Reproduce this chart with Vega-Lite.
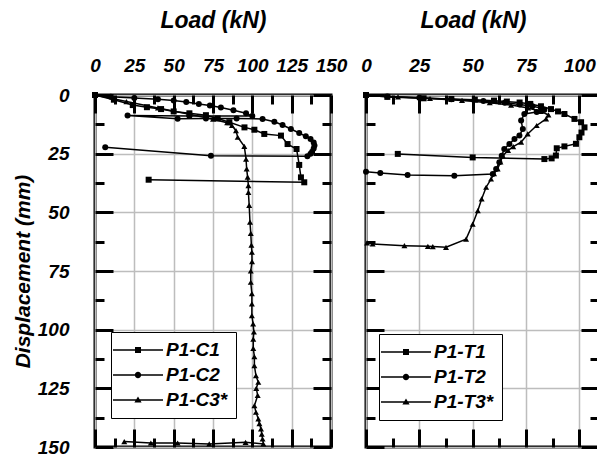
{
  "$schema": "https://vega.github.io/schema/vega-lite/v6.json",
  "padding": {"left": 10, "top": 7, "right": 0, "bottom": 2},
  "bounds": "flush",
  "spacing": 35,
  "config": {
    "view": {"stroke": "black", "strokeWidth": 3},
    "font": "Liberation Sans",
    "axis": {
      "labelFont": "Liberation Sans", "labelFontSize": 19, "labelFontStyle": "italic", "labelFontWeight": "bold", "labelColor": "black",
      "titleFont": "Liberation Sans", "titleFontSize": 21, "titleFontStyle": "italic", "titleFontWeight": "bold", "titleColor": "black",
      "tickColor": "black", "tickWidth": 3, "domain": false, "labelFlush": false, "labelOverlap": false, "gridWidth": 1.5
    },
    "axisX": {"titleFontSize": 23},
    "legend": {
      "labelFont": "Liberation Sans", "labelFontSize": 19, "labelFontStyle": "italic", "labelFontWeight": "bold", "labelColor": "black",
      "strokeColor": "black", "fillColor": "white", "padding": 8, "rowPadding": 5,
      "symbolSize": 400, "symbolFillColor": "black", "symbolStrokeColor": "black", "symbolStrokeWidth": 0,
      "symbolOffset": 9, "labelOffset": 18
    }
  },
  "datasets": {
    "comp": [
      {"s":"P1-C1","i":0,"load":0,"disp":0},{"s":"P1-C1","i":1,"load":12,"disp":2},{"s":"P1-C1","i":2,"load":24,"disp":4.3},{"s":"P1-C1","i":3,"load":33,"disp":5.2},{"s":"P1-C1","i":4,"load":42,"disp":6},{"s":"P1-C1","i":5,"load":50,"disp":7},{"s":"P1-C1","i":6,"load":60,"disp":7.8},{"s":"P1-C1","i":7,"load":70.5,"disp":8.6},{"s":"P1-C1","i":8,"load":78,"disp":10},{"s":"P1-C1","i":9,"load":85.4,"disp":11.6},{"s":"P1-C1","i":10,"load":95,"disp":13.8},{"s":"P1-C1","i":11,"load":101.3,"disp":14.8},{"s":"P1-C1","i":12,"load":107.6,"disp":16.6},{"s":"P1-C1","i":13,"load":118.2,"disp":17.3},{"s":"P1-C1","i":14,"load":122.4,"disp":20.9},{"s":"P1-C1","i":15,"load":128.1,"disp":23},{"s":"P1-C1","i":16,"load":129.8,"disp":29.8},{"s":"P1-C1","i":17,"load":130.9,"disp":35.1},{"s":"P1-C1","i":18,"load":133,"disp":37.2},{"s":"P1-C1","i":19,"load":34.1,"disp":36.1},
      {"s":"P1-C2","i":0,"load":0,"disp":0},{"s":"P1-C2","i":1,"load":10,"disp":0.7},{"s":"P1-C2","i":2,"load":25,"disp":1.3},{"s":"P1-C2","i":3,"load":40,"disp":1.8},{"s":"P1-C2","i":4,"load":50,"disp":2.3},{"s":"P1-C2","i":5,"load":58,"disp":3},{"s":"P1-C2","i":6,"load":66,"disp":3.8},{"s":"P1-C2","i":7,"load":73,"disp":4.5},{"s":"P1-C2","i":8,"load":80,"disp":5.3},{"s":"P1-C2","i":9,"load":88,"disp":6.5},{"s":"P1-C2","i":10,"load":96,"disp":7.8},{"s":"P1-C2","i":11,"load":100,"disp":9},{"s":"P1-C2","i":12,"load":60,"disp":8.9},{"s":"P1-C2","i":13,"load":20.7,"disp":8.7},{"s":"P1-C2","i":14,"load":52.5,"disp":10.1},{"s":"P1-C2","i":15,"load":70.5,"disp":10},{"s":"P1-C2","i":16,"load":90,"disp":10},{"s":"P1-C2","i":17,"load":106.5,"disp":10.2},{"s":"P1-C2","i":18,"load":114,"disp":11.4},{"s":"P1-C2","i":19,"load":119.2,"disp":12.8},{"s":"P1-C2","i":20,"load":124.5,"disp":14.5},{"s":"P1-C2","i":21,"load":129.8,"disp":16.2},{"s":"P1-C2","i":22,"load":134,"disp":17.6},{"s":"P1-C2","i":23,"load":137,"disp":18.7},{"s":"P1-C2","i":24,"load":139,"disp":20.2},{"s":"P1-C2","i":25,"load":139.5,"disp":21.5},{"s":"P1-C2","i":26,"load":139,"disp":22.8},{"s":"P1-C2","i":27,"load":138,"disp":24.2},{"s":"P1-C2","i":28,"load":137,"disp":25},{"s":"P1-C2","i":29,"load":135,"disp":26.1},{"s":"P1-C2","i":30,"load":73.7,"disp":25.9},{"s":"P1-C2","i":31,"load":6.5,"disp":22.3},
      {"s":"P1-C3*","i":0,"load":0,"disp":0},{"s":"P1-C3*","i":1,"load":20,"disp":2.8},{"s":"P1-C3*","i":2,"load":40,"disp":5.5},{"s":"P1-C3*","i":3,"load":60,"disp":8.2},{"s":"P1-C3*","i":4,"load":75,"disp":10.3},{"s":"P1-C3*","i":5,"load":84,"disp":11.8},{"s":"P1-C3*","i":6,"load":87,"disp":13},{"s":"P1-C3*","i":7,"load":89.6,"disp":15.2},{"s":"P1-C3*","i":8,"load":90.7,"disp":18},{"s":"P1-C3*","i":9,"load":94.9,"disp":21.9},{"s":"P1-C3*","i":10,"load":96,"disp":27.3},{"s":"P1-C3*","i":11,"load":96.4,"disp":31.5},{"s":"P1-C3*","i":12,"load":97,"disp":35},{"s":"P1-C3*","i":13,"load":97.5,"disp":38.6},{"s":"P1-C3*","i":14,"load":97.5,"disp":41.5},{"s":"P1-C3*","i":15,"load":98,"disp":47},{"s":"P1-C3*","i":16,"load":98.5,"disp":54.2},{"s":"P1-C3*","i":17,"load":99,"disp":59},{"s":"P1-C3*","i":18,"load":99.4,"disp":64},{"s":"P1-C3*","i":19,"load":99.7,"disp":67},{"s":"P1-C3*","i":20,"load":99.8,"disp":71},{"s":"P1-C3*","i":21,"load":99,"disp":75},{"s":"P1-C3*","i":22,"load":99,"disp":79.8},{"s":"P1-C3*","i":23,"load":99.7,"disp":84.6},{"s":"P1-C3*","i":24,"load":99.7,"disp":89},{"s":"P1-C3*","i":25,"load":99.7,"disp":94},{"s":"P1-C3*","i":26,"load":100.5,"disp":97.5},{"s":"P1-C3*","i":27,"load":101,"disp":101},{"s":"P1-C3*","i":28,"load":100.6,"disp":104},{"s":"P1-C3*","i":29,"load":100.6,"disp":108},{"s":"P1-C3*","i":30,"load":101.3,"disp":111.5},{"s":"P1-C3*","i":31,"load":101.3,"disp":115.3},{"s":"P1-C3*","i":32,"load":102.3,"disp":119.6},{"s":"P1-C3*","i":33,"load":103.8,"disp":122.4},{"s":"P1-C3*","i":34,"load":102.5,"disp":125},{"s":"P1-C3*","i":35,"load":103.4,"disp":128},{"s":"P1-C3*","i":36,"load":101.3,"disp":132.4},{"s":"P1-C3*","i":37,"load":102.3,"disp":135.2},{"s":"P1-C3*","i":38,"load":103.8,"disp":138},{"s":"P1-C3*","i":39,"load":104.5,"disp":140},{"s":"P1-C3*","i":40,"load":105.5,"disp":142.3},{"s":"P1-C3*","i":41,"load":106,"disp":144.5},{"s":"P1-C3*","i":42,"load":106.5,"disp":146.6},{"s":"P1-C3*","i":43,"load":107,"disp":148.7},{"s":"P1-C3*","i":44,"load":95.7,"disp":148},{"s":"P1-C3*","i":45,"load":72.6,"disp":148.7},{"s":"P1-C3*","i":46,"load":52.5,"disp":148.3},{"s":"P1-C3*","i":47,"load":35.5,"disp":148.3},{"s":"P1-C3*","i":48,"load":18.6,"disp":147.7}
    ],
    "tens": [
      {"s":"P1-T1","i":0,"load":0,"disp":0},{"s":"P1-T1","i":1,"load":10,"disp":0.8},{"s":"P1-T1","i":2,"load":27,"disp":1.4},{"s":"P1-T1","i":3,"load":40,"disp":1.7},{"s":"P1-T1","i":4,"load":51,"disp":2},{"s":"P1-T1","i":5,"load":60,"disp":2.4},{"s":"P1-T1","i":6,"load":66,"disp":2.8},{"s":"P1-T1","i":7,"load":72,"disp":3.2},{"s":"P1-T1","i":8,"load":77,"disp":3.8},{"s":"P1-T1","i":9,"load":82,"disp":4.8},{"s":"P1-T1","i":10,"load":86.7,"disp":6},{"s":"P1-T1","i":11,"load":90,"disp":7},{"s":"P1-T1","i":12,"load":93,"disp":8.1},{"s":"P1-T1","i":13,"load":97.7,"disp":10.2},{"s":"P1-T1","i":14,"load":100.8,"disp":11.6},{"s":"P1-T1","i":15,"load":102.4,"disp":13.8},{"s":"P1-T1","i":16,"load":101,"disp":16},{"s":"P1-T1","i":17,"load":100,"disp":18},{"s":"P1-T1","i":18,"load":98.4,"disp":20.8},{"s":"P1-T1","i":19,"load":93,"disp":21.9},{"s":"P1-T1","i":20,"load":89.4,"disp":22.7},{"s":"P1-T1","i":21,"load":89,"disp":25.8},{"s":"P1-T1","i":22,"load":87,"disp":27},{"s":"P1-T1","i":23,"load":83.6,"disp":27.3},{"s":"P1-T1","i":24,"load":50,"disp":26.6},{"s":"P1-T1","i":25,"load":14.9,"disp":25.1},
      {"s":"P1-T2","i":0,"load":0,"disp":0},{"s":"P1-T2","i":1,"load":10,"disp":0.6},{"s":"P1-T2","i":2,"load":25,"disp":1.2},{"s":"P1-T2","i":3,"load":40,"disp":1.8},{"s":"P1-T2","i":4,"load":55,"disp":2.6},{"s":"P1-T2","i":5,"load":65,"disp":3.3},{"s":"P1-T2","i":6,"load":72,"disp":4},{"s":"P1-T2","i":7,"load":78,"disp":4.8},{"s":"P1-T2","i":8,"load":82,"disp":5.5},{"s":"P1-T2","i":9,"load":83.6,"disp":6.3},{"s":"P1-T2","i":10,"load":80,"disp":7.2},{"s":"P1-T2","i":11,"load":74.2,"disp":8.1},{"s":"P1-T2","i":12,"load":72.7,"disp":10.9},{"s":"P1-T2","i":13,"load":73.5,"disp":14.5},{"s":"P1-T2","i":14,"load":71.9,"disp":17.3},{"s":"P1-T2","i":15,"load":69.6,"disp":18.7},{"s":"P1-T2","i":16,"load":67.2,"disp":20.9},{"s":"P1-T2","i":17,"load":64.8,"disp":23},{"s":"P1-T2","i":18,"load":63.6,"disp":25.9},{"s":"P1-T2","i":19,"load":62.5,"disp":28.7},{"s":"P1-T2","i":20,"load":61,"disp":31.5},{"s":"P1-T2","i":21,"load":59.4,"disp":33.7},{"s":"P1-T2","i":22,"load":41.4,"disp":34.4},{"s":"P1-T2","i":23,"load":19.5,"disp":34.1},{"s":"P1-T2","i":24,"load":6.7,"disp":33.2},{"s":"P1-T2","i":25,"load":0,"disp":32.7},
      {"s":"P1-T3*","i":0,"load":0,"disp":0},{"s":"P1-T3*","i":1,"load":15,"disp":0.8},{"s":"P1-T3*","i":2,"load":30,"disp":1.5},{"s":"P1-T3*","i":3,"load":45,"disp":2.3},{"s":"P1-T3*","i":4,"load":58,"disp":3.3},{"s":"P1-T3*","i":5,"load":68,"disp":4.3},{"s":"P1-T3*","i":6,"load":76,"disp":5.5},{"s":"P1-T3*","i":7,"load":82,"disp":7},{"s":"P1-T3*","i":8,"load":85.5,"disp":8.5},{"s":"P1-T3*","i":9,"load":84.4,"disp":10.2},{"s":"P1-T3*","i":10,"load":80,"disp":13},{"s":"P1-T3*","i":11,"load":75.8,"disp":16.6},{"s":"P1-T3*","i":12,"load":72.7,"disp":20.1},{"s":"P1-T3*","i":13,"load":69,"disp":22},{"s":"P1-T3*","i":14,"load":66.6,"disp":23.6},{"s":"P1-T3*","i":15,"load":64.1,"disp":25.9},{"s":"P1-T3*","i":16,"load":63,"disp":28.5},{"s":"P1-T3*","i":17,"load":61.7,"disp":31.5},{"s":"P1-T3*","i":18,"load":60,"disp":33.5},{"s":"P1-T3*","i":19,"load":58.6,"disp":35.8},{"s":"P1-T3*","i":20,"load":56.3,"disp":39.3},{"s":"P1-T3*","i":21,"load":54.2,"disp":44.3},{"s":"P1-T3*","i":22,"load":52.4,"disp":49.3},{"s":"P1-T3*","i":23,"load":50,"disp":55},{"s":"P1-T3*","i":24,"load":46.9,"disp":61.4},{"s":"P1-T3*","i":25,"load":37.5,"disp":64.9},{"s":"P1-T3*","i":26,"load":31.3,"disp":64.6},{"s":"P1-T3*","i":27,"load":29,"disp":64.5},{"s":"P1-T3*","i":28,"load":18,"disp":64.2},{"s":"P1-T3*","i":29,"load":3.1,"disp":63.5},{"s":"P1-T3*","i":30,"load":0.5,"disp":63}
    ]
  },
  "hconcat": [
    {
      "width": 236, "height": 352,
      "layer": [
        {
          "data": {"name": "comp"},
          "mark": {"type": "line", "color": "black", "strokeWidth": 1.5},
          "encoding": {
            "x": {"field": "load", "type": "quantitative", "scale": {"domain": [0, 150], "nice": false, "zero": false},
              "axis": {"orient": "top", "title": "Load (kN)", "titlePadding": 24, "values": [0,25,50,75,100,125,150],
                "labelPadding": 38, "tickSize": -18, "gridColor": "#bdbdbd"}},
            "y": {"field": "disp", "type": "quantitative", "scale": {"domain": [0, 150], "reverse": true, "nice": false, "zero": false},
              "axis": {"orient": "left", "title": "Displacement (mm)", "titlePadding": 4, "values": [0,25,50,75,100,125,150],
                "labelPadding": 44, "tickSize": -18, "gridColor": "#bdbdbd"}},
            "detail": {"field": "s"},
            "order": {"field": "i", "type": "quantitative"}
          }
        },
        {
          "data": {"name": "comp"},
          "mark": {"type": "point", "filled": true, "color": "black", "opacity": 1, "size": 36},
          "encoding": {
            "x": {"field": "load", "type": "quantitative", "scale": {"domain": [0, 150], "nice": false, "zero": false},
              "axis": {"orient": "top", "title": null, "labels": false, "values": [12.5,37.5,62.5,87.5,112.5,137.5], "tickSize": -9, "gridDash": [5, 4], "gridColor": "#cccccc"}},
            "y": {"field": "disp", "type": "quantitative", "scale": {"domain": [0, 150], "reverse": true, "nice": false, "zero": false},
              "axis": {"orient": "left", "title": null, "labels": false, "values": [12.5,37.5,62.5,87.5,112.5,137.5], "tickSize": -9, "gridDash": [5, 4], "gridColor": "#cccccc"}},
            "shape": {"field": "s", "type": "nominal", "scale": {"domain": ["P1-C1", "P1-C2", "P1-C3*"], "range": ["square", "circle", "triangle-up"]}, "legend": null}
          }
        },
        {
          "data": {"name": "comp"},
          "transform": [{"filter": {"field": "s", "equal": "none"}}],
          "mark": {"type": "point", "filled": true, "color": "black", "opacity": 1},
          "encoding": {
            "x": {"field": "load", "type": "quantitative", "scale": {"domain": [0, 150], "nice": false, "zero": false},
              "axis": {"orient": "bottom", "title": null, "labels": false, "grid": false, "values": [0,25,50,75,100,125,150], "tickSize": -18}},
            "y": {"field": "disp", "type": "quantitative", "scale": {"domain": [0, 150], "reverse": true, "nice": false, "zero": false},
              "axis": {"orient": "right", "title": null, "labels": false, "grid": false, "values": [0,25,50,75,100,125,150], "tickSize": -18}},
            "shape": {"field": "s", "type": "nominal",
              "scale": {"domain": ["P1-C1", "P1-C2", "P1-C3*"],
                "range": ["M-2.5,-0.08H2.5V0.08H-2.5ZM-0.3,-0.3H0.3V0.3H-0.3Z", "M-2.5,-0.08H2.5V0.08H-2.5ZM-0.32,0A0.32,0.32 0 1,1 0.32,0A0.32,0.32 0 1,1 -0.32,0Z", "M-2.5,-0.08H2.5V0.08H-2.5ZM0,-0.36L0.36,0.26H-0.36Z"]},
              "legend": {"orient": "none", "legendX": 16, "legendY": 237, "title": null}}
          }
        },
        {
          "data": {"name": "comp"},
          "transform": [{"filter": {"field": "s", "equal": "none"}}],
          "mark": {"type": "point", "opacity": 0},
          "encoding": {
            "x": {"field": "load", "type": "quantitative", "scale": {"domain": [0, 150], "nice": false, "zero": false},
              "axis": {"orient": "bottom", "title": null, "labels": false, "grid": false, "values": [12.5,37.5,62.5,87.5,112.5,137.5], "tickSize": -9}},
            "y": {"field": "disp", "type": "quantitative", "scale": {"domain": [0, 150], "reverse": true, "nice": false, "zero": false},
              "axis": {"orient": "right", "title": null, "labels": false, "grid": false, "values": [12.5,37.5,62.5,87.5,112.5,137.5], "tickSize": -9}}
          }
        }
      ],
      "resolve": {"scale": {"shape": "independent"}, "axis": {"x": "independent", "y": "independent"}}
    },
    {
      "width": 233, "height": 352,
      "layer": [
        {
          "data": {"name": "tens"},
          "mark": {"type": "line", "color": "black", "strokeWidth": 1.5},
          "encoding": {
            "x": {"field": "load", "type": "quantitative", "scale": {"domain": [0, 109.2], "nice": false, "zero": false},
              "axis": {"orient": "top", "title": "Load (kN)", "titleX": 107, "titlePadding": 24, "values": [0,25,50,75,100],
                "labelPadding": 38, "tickSize": -18, "gridColor": "#bdbdbd"}},
            "y": {"field": "disp", "type": "quantitative", "scale": {"domain": [0, 150], "reverse": true, "nice": false, "zero": false},
              "axis": {"orient": "left", "title": null, "labels": false, "values": [0,25,50,75,100,125,150], "tickSize": -18, "gridColor": "#bdbdbd"}},
            "detail": {"field": "s"},
            "order": {"field": "i", "type": "quantitative"}
          }
        },
        {
          "data": {"name": "tens"},
          "mark": {"type": "point", "filled": true, "color": "black", "opacity": 1, "size": 36},
          "encoding": {
            "x": {"field": "load", "type": "quantitative", "scale": {"domain": [0, 109.2], "nice": false, "zero": false},
              "axis": {"orient": "top", "title": null, "labels": false, "values": [12.5,37.5,62.5,87.5], "tickSize": -9, "gridDash": [5, 4], "gridColor": "#cccccc"}},
            "y": {"field": "disp", "type": "quantitative", "scale": {"domain": [0, 150], "reverse": true, "nice": false, "zero": false},
              "axis": {"orient": "left", "title": null, "labels": false, "values": [12.5,37.5,62.5,87.5,112.5,137.5], "tickSize": -9, "gridDash": [5, 4], "gridColor": "#cccccc"}},
            "shape": {"field": "s", "type": "nominal", "scale": {"domain": ["P1-T1", "P1-T2", "P1-T3*"], "range": ["square", "circle", "triangle-up"]}, "legend": null}
          }
        },
        {
          "data": {"name": "tens"},
          "transform": [{"filter": {"field": "s", "equal": "none"}}],
          "mark": {"type": "point", "filled": true, "color": "black", "opacity": 1},
          "encoding": {
            "x": {"field": "load", "type": "quantitative", "scale": {"domain": [0, 109.2], "nice": false, "zero": false},
              "axis": {"orient": "bottom", "title": null, "labels": false, "grid": false, "values": [0,25,50,75,100], "tickSize": -18}},
            "y": {"field": "disp", "type": "quantitative", "scale": {"domain": [0, 150], "reverse": true, "nice": false, "zero": false},
              "axis": {"orient": "right", "title": null, "labels": false, "grid": false, "values": [0,25,50,75,100,125,150], "tickSize": -18}},
            "shape": {"field": "s", "type": "nominal",
              "scale": {"domain": ["P1-T1", "P1-T2", "P1-T3*"],
                "range": ["M-2.5,-0.08H2.5V0.08H-2.5ZM-0.3,-0.3H0.3V0.3H-0.3Z", "M-2.5,-0.08H2.5V0.08H-2.5ZM-0.32,0A0.32,0.32 0 1,1 0.32,0A0.32,0.32 0 1,1 -0.32,0Z", "M-2.5,-0.08H2.5V0.08H-2.5ZM0,-0.36L0.36,0.26H-0.36Z"]},
              "legend": {"orient": "none", "legendX": 13, "legendY": 239, "title": null}}
          }
        },
        {
          "data": {"name": "tens"},
          "transform": [{"filter": {"field": "s", "equal": "none"}}],
          "mark": {"type": "point", "opacity": 0},
          "encoding": {
            "x": {"field": "load", "type": "quantitative", "scale": {"domain": [0, 109.2], "nice": false, "zero": false},
              "axis": {"orient": "bottom", "title": null, "labels": false, "grid": false, "values": [12.5,37.5,62.5,87.5], "tickSize": -9}},
            "y": {"field": "disp", "type": "quantitative", "scale": {"domain": [0, 150], "reverse": true, "nice": false, "zero": false},
              "axis": {"orient": "right", "title": null, "labels": false, "grid": false, "values": [12.5,37.5,62.5,87.5,112.5,137.5], "tickSize": -9}}
          }
        }
      ],
      "resolve": {"scale": {"shape": "independent"}, "axis": {"x": "independent", "y": "independent"}}
    }
  ],
  "resolve": {"scale": {"x": "independent", "y": "independent", "shape": "independent"}, "legend": {"shape": "independent"}}
}
